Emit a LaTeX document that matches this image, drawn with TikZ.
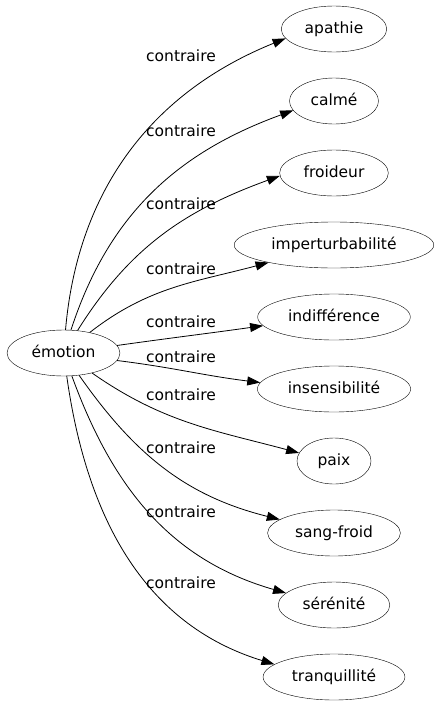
\documentclass[tikz,border=0pt]{standalone}
\usepackage{fontspec}
\setmainfont{DejaVu Sans}
\usetikzlibrary{arrows.meta,shapes.geometric}
\tikzstyle{word}=[ellipse, draw=black, minimum width=74pt, minimum height=46pt, inner xsep=8pt, inner ysep=2pt, font=\fontsize{15.5}{18}\selectfont, text height=11.5pt, text depth=3.5pt]
\tikzstyle{rel}=[font=\fontsize{15.5}{18}\selectfont, text height=11.5pt, text depth=3.5pt, inner sep=0pt]
\tikzstyle{edge}=[-{Triangle[length=13pt,width=9pt]}, line width=0.8pt]

\begin{document}
\begin{tikzpicture}[x=1pt,y=-1pt]
		\useasboundingbox (0,0) rectangle (438,707);
		\node[word] (E) at(63.5,353){émotion};
		\node[word] (T1) at(334,29){apathie};
		\node[word] (T2) at(334,101){calmé};
		\node[word] (T3) at(334,173){froideur};
		\node[word] (T4) at(334,245){imperturbabilité};
		\node[word] (T5) at(334,317){indifférence};
		\node[word] (T6) at(334,389){insensibilité};
		\node[word] (T7) at(334,461){paix};
		\node[word] (T8) at(334,533){sang-froid};
		\node[word] (T9) at(334,605){sérénité};
		\node[word] (T10) at(334,677){tranquillité};
		\node[rel] (L1) at(181,57){contraire};
		\node[rel] (L2) at(181,132){contraire};
		\node[rel] (L3) at(181,205){contraire};
		\node[rel] (L4) at(181,270){contraire};
		\node[rel] (L5) at(181,323){contraire};
		\node[rel] (L6) at(181,358){contraire};
		\node[rel] (L7) at(181,396){contraire};
		\node[rel] (L8) at(181,449){contraire};
		\node[rel] (L9) at(181,513){contraire};
		\node[rel] (L10) at(181,584){contraire};
		
	\draw[edge](E) to [out=85, in=202](T1.191);
	\draw[edge](E) to [out=72, in=200](T2.193);
	\draw[edge](E) to [out=58, in=200](T3.183);
	\draw[edge](E) to [out=38, in=195](T4.195);
	\draw[edge](E.8) to [out=8, in=188](T5.187);
	\draw[edge](E.-8) to [out=-7, in=173](T6.175);
	\draw[edge](E) to [out=-35, in=165](T7.167);
	\draw[edge](E) to [out=-55, in=166](T8.166);
	\draw[edge](E) to [out=-70, in=164](T9.166);
	\draw[edge](E) to [out=-82, in=163](T10.168);
	\end{tikzpicture}
\end{document}
